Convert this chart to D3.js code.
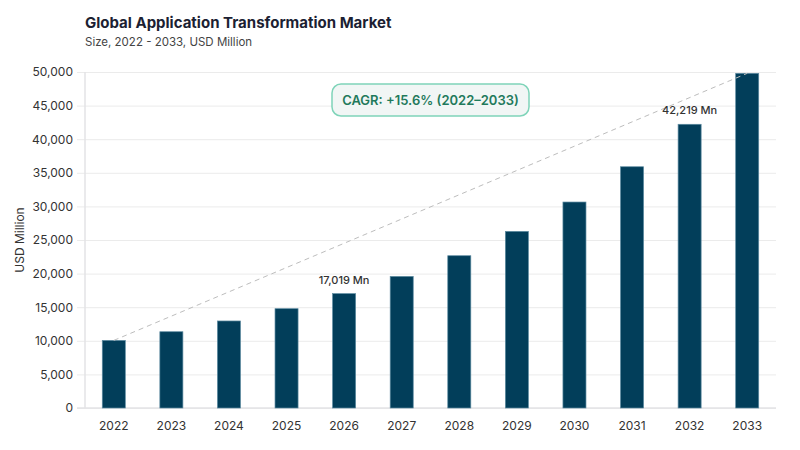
<!DOCTYPE html>
<html>
<head>
<meta charset="utf-8">
<script src="https://cdn.jsdelivr.net/npm/d3@7"></script>
<style>
  body { margin: 0; background: #fff; }
  svg { font-family: Inter, "Noto Sans", sans-serif; }
</style>
</head>
<body>
<div id="chart"></div>
<script>
var years = ["2022","2023","2024","2025","2026","2027","2028","2029","2030","2031","2032","2033"];
var values = [10060, 11350, 12950, 14780, 17019, 19580, 22660, 26280, 30650, 35900, 42219, 49800];
var yTicks = [0, 5000, 10000, 15000, 20000, 25000, 30000, 35000, 40000, 45000, 50000];
var labelled = ["2026", "2032"];
var cagrText = "CAGR: +15.6% (2022\u20132033)";

var w = 800, h = 450;
var plotLeft = 85, plotRight = 776, plotTop = 72, plotBottom = 408;

var svg = d3.select('#chart')
            .append('svg')
            .attr('width', w)
            .attr('height', h);

var x = d3.scaleBand()
    .domain(years)
    .range([plotLeft, plotRight])
    .paddingInner(0.6)
    .paddingOuter(0.3);

var y = d3.scaleLinear()
    .domain([0, 50000])
    .range([plotBottom, plotTop]);

//title
svg.append('text')
    .attr('x', 85).attr('y', 28)
    .attr('font-size', 15).attr('font-weight', 700)
    .attr('fill', '#1c1f33')
    .text('Global Application Transformation Market');
svg.append('text')
    .attr('x', 85).attr('y', 46)
    .attr('font-size', 11.5).attr('fill', '#444')
    .text('Size, 2022 - 2033, USD Million');

//grid + y axis
var yAxis = d3.axisLeft(y)
    .tickValues(yTicks)
    .tickSize(-(plotRight - plotLeft))
    .tickPadding(12)
    .tickFormat(d3.format(','));
var gy = svg.append('g')
    .attr('transform', 'translate(' + plotLeft + ',0)')
    .call(yAxis);
gy.select('.domain').remove();
gy.selectAll('.tick line')
    .attr('x1', -8)
    .attr('stroke', '#ebebeb');
gy.selectAll('.tick text')
    .attr('font-size', 12)
    .attr('fill', '#333')
    .attr('font-family', 'Inter, sans-serif');

svg.append('line')
    .attr('x1', plotLeft).attr('x2', plotLeft)
    .attr('y1', plotTop).attr('y2', plotBottom)
    .attr('stroke', '#e3e3e6').attr('stroke-width', 1.5);
svg.append('line')
    .attr('x1', plotLeft - 8).attr('x2', plotRight)
    .attr('y1', plotBottom).attr('y2', plotBottom)
    .attr('stroke', '#e3e3e6').attr('stroke-width', 1.5);

svg.append('text')
    .attr('transform', 'translate(24,' + ((plotTop + plotBottom) / 2) + ') rotate(-90)')
    .attr('text-anchor', 'middle')
    .attr('font-size', 12).attr('fill', '#333')
    .text('USD Million');

//x axis
var gx = svg.append('g')
    .attr('transform', 'translate(0,' + plotBottom + ')')
    .call(d3.axisBottom(x).tickSize(0).tickPadding(13));
gx.select('.domain').remove();
gx.selectAll('.tick text')
    .attr('font-size', 12)
    .attr('fill', '#333')
    .attr('font-family', 'Inter, sans-serif');

//bars
svg.selectAll('rect.bar')
    .data(values)
  .enter()
  .append('rect')
    .attr('class', 'bar')
    .attr('x', function(d, i) { return x(years[i]); })
    .attr('y', function(d) { return y(d); })
    .attr('width', x.bandwidth())
    .attr('height', function(d) { return y(0) - y(d); })
    .attr('fill', '#023e5a')
    .attr('stroke', '#5c8aa0')
    .attr('stroke-width', 0.7);

//trend line
var n = years.length - 1;
svg.append('line')
    .attr('x1', x(years[0]) + x.bandwidth() / 2)
    .attr('y1', y(values[0]))
    .attr('x2', x(years[n]) + x.bandwidth() / 2)
    .attr('y2', y(values[n]))
    .attr('stroke', '#bdbdbd')
    .attr('stroke-width', 1)
    .attr('stroke-dasharray', '5,4');

//value labels
svg.selectAll('text.val')
    .data(years.filter(function(d) { return labelled.indexOf(d) >= 0; }))
  .enter()
  .append('text')
    .attr('class', 'val')
    .attr('x', function(d) { return x(d) + x.bandwidth() / 2; })
    .attr('y', function(d) { return y(values[years.indexOf(d)]) - 10; })
    .attr('text-anchor', 'middle')
    .attr('font-size', 11).attr('font-weight', 500)
    .attr('fill', '#333')
    .text(function(d) { return d3.format(',')(values[years.indexOf(d)]) + ' Mn'; });

//CAGR badge
svg.append('rect')
    .attr('x', 332).attr('y', 84)
    .attr('width', 197).attr('height', 32)
    .attr('rx', 9)
    .attr('fill', '#f1f6f5')
    .attr('stroke', '#7fd4b9')
    .attr('stroke-width', 1.5);
svg.append('text')
    .attr('x', 430.5).attr('y', 105)
    .attr('text-anchor', 'middle')
    .attr('font-size', 13).attr('font-weight', 600)
    .attr('fill', '#1f7a5c')
    .text(cagrText);
</script>
</body>
</html>
